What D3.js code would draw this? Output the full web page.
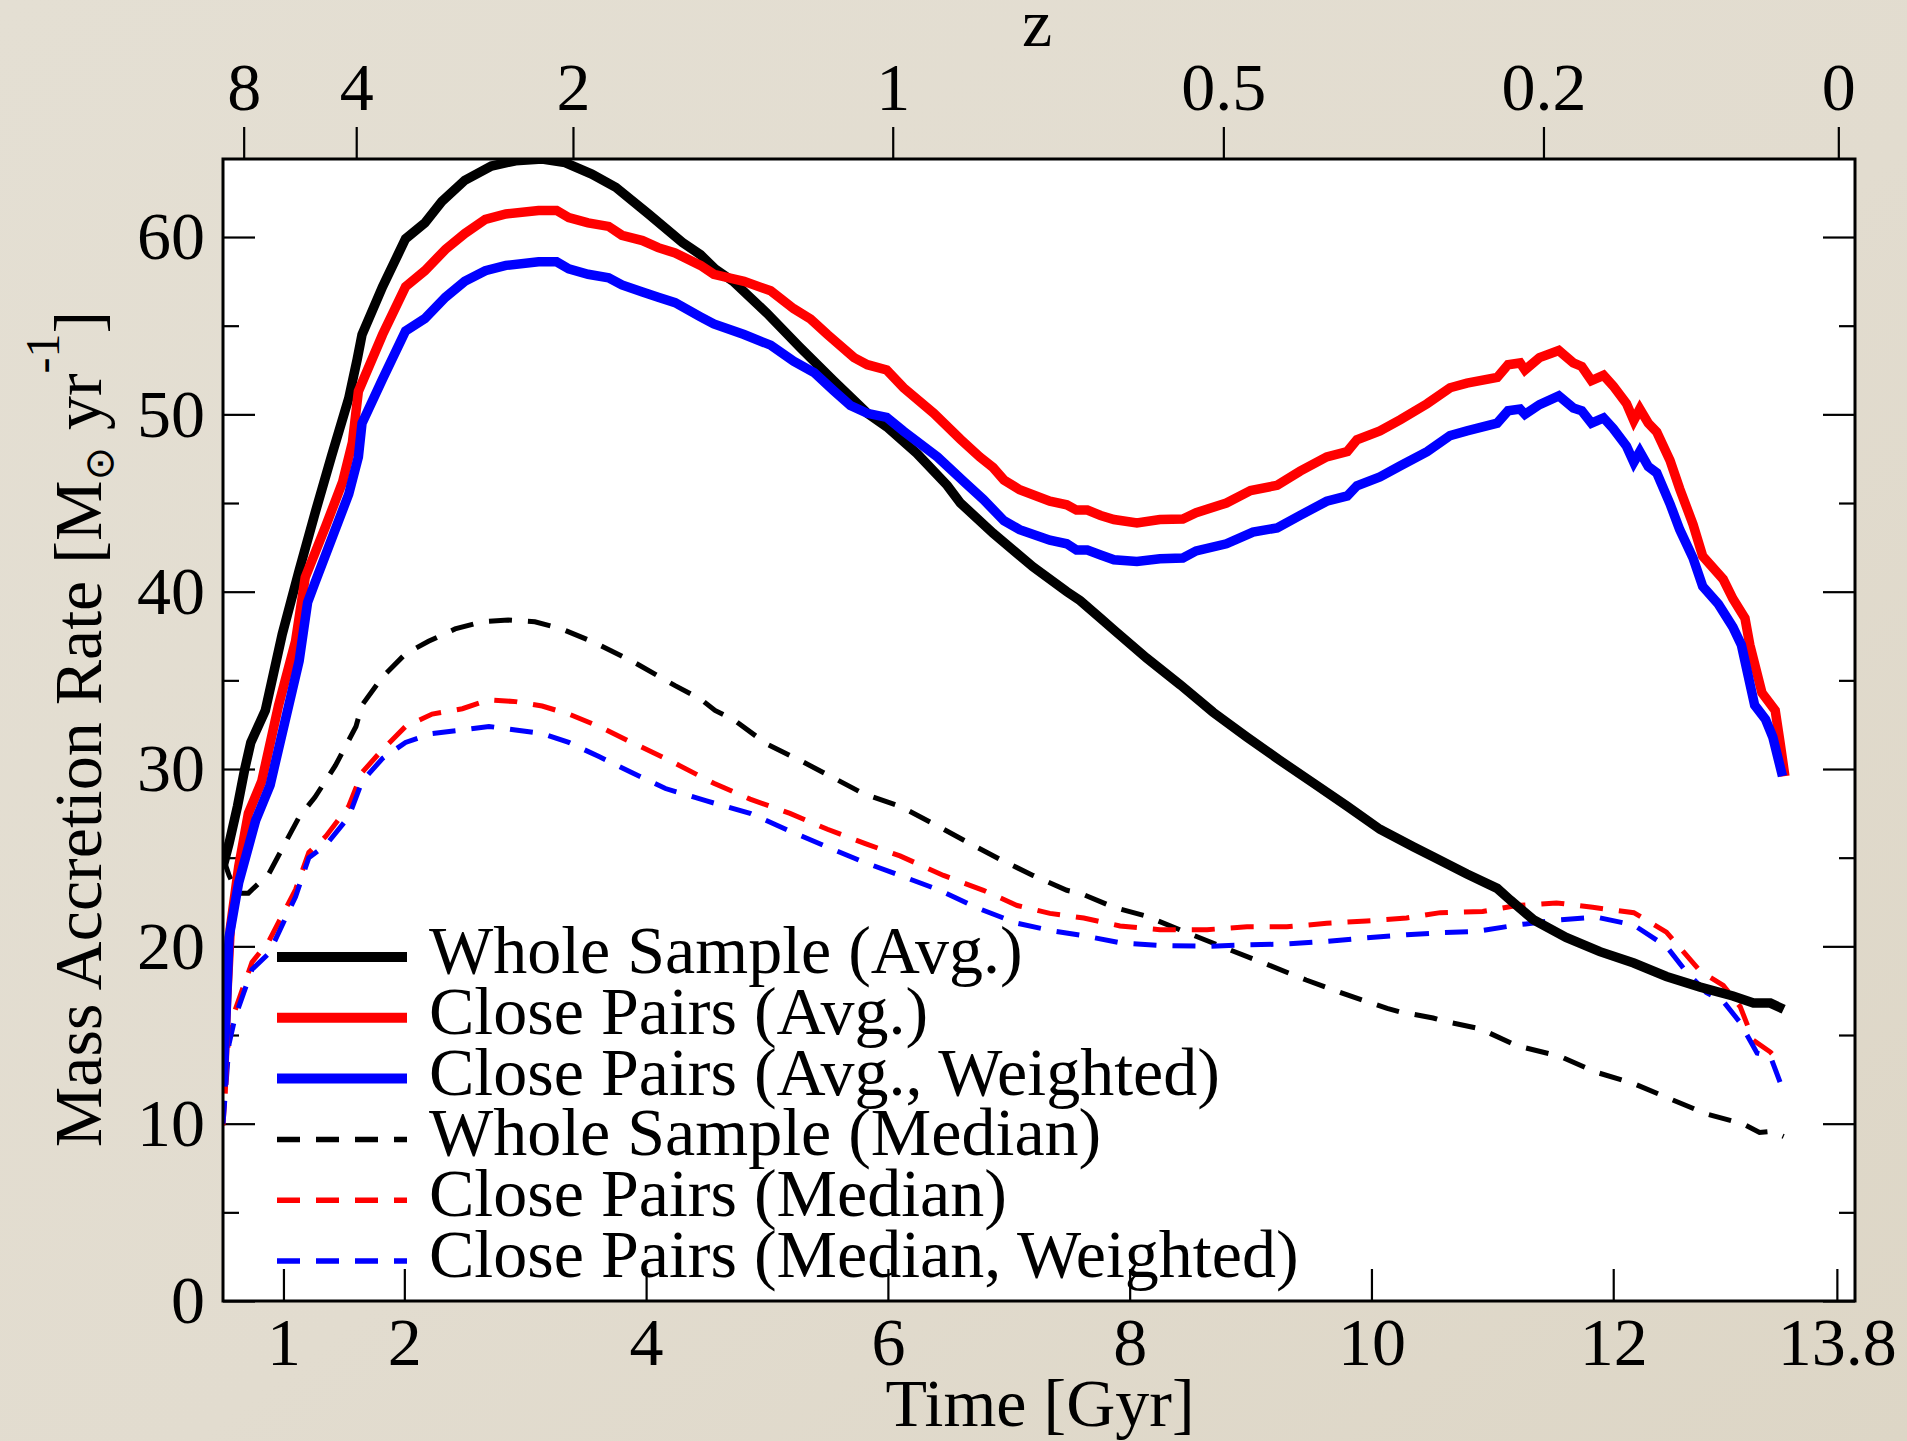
<!DOCTYPE html>
<html>
<head>
<meta charset="utf-8">
<script src="https://cdn.jsdelivr.net/npm/d3@7/dist/d3.min.js"></script>
<style>
  html, body { margin: 0; padding: 0; background: #e2ddcf; }
  svg { display: block; }
  text { font-family: "Liberation Serif", "Times New Roman", serif; fill: #000; }
</style>
</head>
<body>
<svg id="chart" width="1907" height="1441"></svg>
<script>
// ---------------- DATA ----------------
const timeTicks = [1, 2, 4, 6, 8, 10, 12, 13.85];
const timeTickLabels = ["1", "2", "4", "6", "8", "10", "12", "13.8"];
const zTickTimes = [0.671, 1.602, 3.395, 6.04, 8.775, 11.423, 13.862];
const zTickLabels = ["8", "4", "2", "1", "0.5", "0.2", "0"];
const yMajorTicks = [0, 10, 20, 30, 40, 50, 60];
const yMinorTicks = [5, 15, 25, 35, 45, 55];

const seriesNames = [
  "Whole Sample (Avg.)",
  "Close Pairs (Avg.)",
  "Close Pairs (Avg., Weighted)",
  "Whole Sample (Median)",
  "Close Pairs (Median)",
  "Close Pairs (Median, Weighted)"
];

// [time (Gyr), mass accretion rate]
const wholeAvg = [
  [0.5,24.5],[0.55,25.8],[0.62,27.9],[0.68,30.0],[0.73,31.5],[0.85,33.3],[0.99,37.6],[1.13,41.2],
  [1.26,44.4],[1.40,47.7],[1.54,50.9],[1.61,53.1],[1.65,54.5],[1.82,57.2],[2.01,59.9],[2.17,60.8],
  [2.31,62.0],[2.50,63.2],[2.72,64.0],[2.92,64.3],[3.14,64.4],[3.33,64.2],[3.55,63.55],[3.75,62.8],
  [4.02,61.3],[4.30,59.7],[4.45,59.0],[4.57,58.2],[4.72,57.5],[5.0,55.7],[5.27,53.8],[5.55,51.9],
  [5.83,50.06],[5.99,49.3],[6.24,47.8],[6.49,46.0],[6.60,45.0],[6.87,43.3],[7.2,41.4],[7.48,40.0],
  [7.59,39.5],[7.76,38.5],[7.87,37.84],[8.14,36.26],[8.42,34.74],[8.69,33.2],[8.97,31.8],[9.24,30.5],
  [9.52,29.2],[9.80,27.9],[10.07,26.6],[10.35,25.6],[10.51,25.05],[10.79,24.08],[11.04,23.27],
  [11.15,22.6],[11.34,21.5],[11.61,20.5],[11.89,19.7],[12.17,19.06],[12.44,18.3],[12.72,17.7],
  [12.99,17.2],[13.16,16.8],[13.30,16.8],[13.41,16.45]
];
const closeAvg = [
  [0.5,11.7],[0.53,17.0],[0.56,21.0],[0.63,24.5],[0.71,27.5],[0.82,29.3],[0.96,33.6],[1.10,37.2],
  [1.18,40.8],[1.35,43.7],[1.49,46.2],[1.57,48.4],[1.62,51.3],[1.82,54.5],[2.01,57.2],[2.17,58.1],
  [2.34,59.3],[2.50,60.2],[2.67,61.0],[2.84,61.3],[3.11,61.5],[3.26,61.5],[3.36,61.1],[3.52,60.8],
  [3.69,60.6],[3.80,60.1],[3.97,59.8],[4.10,59.4],[4.24,59.1],[4.45,58.4],[4.56,57.9],[4.81,57.5],
  [5.03,56.97],[5.22,55.96],[5.36,55.38],[5.50,54.5],[5.72,53.2],[5.83,52.8],[5.99,52.5],[6.13,51.5],
  [6.38,50.06],[6.60,48.6],[6.76,47.6],[6.87,47.0],[6.96,46.3],[7.09,45.75],[7.34,45.1],[7.48,44.9],
  [7.56,44.6],[7.65,44.6],[7.76,44.3],[7.87,44.07],[8.06,43.87],[8.25,44.07],[8.44,44.1],[8.55,44.45],
  [8.80,45.0],[9.0,45.7],[9.22,46.0],[9.41,46.8],[9.63,47.6],[9.80,47.9],[9.88,48.57],[10.07,49.06],
  [10.24,49.7],[10.46,50.6],[10.65,51.5],[10.79,51.76],[11.04,52.08],[11.13,52.8],[11.23,52.9],
  [11.27,52.5],[11.39,53.2],[11.55,53.6],[11.67,52.9],[11.74,52.7],[11.82,51.9],[11.92,52.2],
  [12.0,51.6],[12.11,50.6],[12.17,49.65],[12.22,50.3],[12.29,49.5],[12.36,49.0],[12.47,47.4],
  [12.55,45.8],[12.66,43.8],[12.74,42.0],[12.91,40.7],[12.99,39.6],[13.09,38.5],[13.13,37.0],
  [13.23,34.3],[13.34,33.3],[13.38,31.5],[13.42,29.6]
];
const closeAvgW = [
  [0.5,12.1],[0.53,17.0],[0.55,20.5],[0.63,23.6],[0.77,27.1],[0.89,29.1],[1.02,32.9],[1.13,36.1],
  [1.20,39.4],[1.26,40.5],[1.40,43.0],[1.54,45.5],[1.62,47.6],[1.65,49.5],[1.82,52.0],[2.01,54.7],
  [2.17,55.4],[2.34,56.6],[2.50,57.5],[2.67,58.1],[2.84,58.4],[3.11,58.6],[3.26,58.6],[3.36,58.2],
  [3.52,57.9],[3.69,57.7],[3.80,57.3],[3.97,56.9],[4.10,56.6],[4.24,56.3],[4.45,55.5],[4.56,55.1],
  [4.81,54.5],[5.03,53.9],[5.22,53.0],[5.39,52.36],[5.55,51.35],[5.69,50.5],[5.83,50.06],[5.99,49.83],
  [6.13,49.05],[6.41,47.6],[6.63,46.2],[6.79,45.2],[6.96,44.0],[7.09,43.5],[7.34,42.9],[7.48,42.7],
  [7.56,42.35],[7.65,42.35],[7.76,42.07],[7.87,41.8],[8.06,41.7],[8.25,41.86],[8.44,41.9],[8.55,42.3],
  [8.80,42.7],[9.02,43.36],[9.22,43.6],[9.41,44.3],[9.63,45.1],[9.80,45.4],[9.88,45.97],[10.07,46.47],
  [10.24,47.1],[10.46,47.9],[10.65,48.8],[10.79,49.07],[11.04,49.5],[11.13,50.2],[11.23,50.3],
  [11.27,50.0],[11.39,50.55],[11.55,51.04],[11.67,50.36],[11.74,50.2],[11.82,49.5],[11.92,49.8],
  [12.0,49.2],[12.11,48.2],[12.17,47.3],[12.22,47.9],[12.29,47.06],[12.36,46.7],[12.47,44.95],
  [12.55,43.5],[12.66,41.9],[12.74,40.3],[12.87,39.3],[12.99,38.0],[13.06,37.0],[13.17,33.6],
  [13.26,32.8],[13.32,31.8],[13.40,29.6]
];
const wholeMed = [
  [0.5,25.0],[0.55,24.0],[0.62,23.0],[0.71,23.0],[0.88,24.1],[1.02,25.9],[1.13,27.3],[1.26,28.4],
  [1.43,30.2],[1.60,32.4],[1.65,33.6],[1.82,35.2],[2.01,36.5],[2.2,37.2],[2.42,37.9],[2.64,38.3],
  [2.86,38.4],[3.08,38.3],[3.30,37.9],[3.55,37.2],[3.88,36.1],[4.24,34.7],[4.45,33.95],[4.57,33.3],
  [4.72,32.8],[5.0,31.4],[5.27,30.5],[5.55,29.5],[5.80,28.6],[6.10,27.9],[6.38,26.9],[6.65,25.9],
  [6.93,24.9],[7.2,24.0],[7.48,23.16],[7.59,23.0],[7.87,22.2],[8.14,21.7],[8.5,20.7],[8.83,19.8],
  [9.13,19.0],[9.46,18.1],[9.80,17.26],[10.13,16.5],[10.24,16.3],[10.51,15.96],[10.59,15.8],
  [10.9,15.35],[11.2,14.4],[11.56,13.8],[11.86,12.9],[12.17,12.26],[12.47,11.4],[12.77,10.55],
  [13.07,10.0],[13.21,9.5],[13.31,9.57],[13.41,9.28]
];
const closeMed = [
  [0.5,9.9],[0.55,15.3],[0.60,16.4],[0.74,19.1],[0.88,20.3],[1.10,23.2],[1.21,25.3],[1.35,26.2],
  [1.54,27.9],[1.65,29.8],[1.82,31.1],[2.01,32.4],[2.23,33.1],[2.48,33.4],[2.70,33.9],[2.92,33.8],
  [3.14,33.55],[3.36,33.1],[3.61,32.4],[3.88,31.5],[4.16,30.6],[4.56,29.2],[4.86,28.3],[5.19,27.5],
  [5.50,26.6],[5.83,25.75],[6.10,25.1],[6.46,24.0],[6.79,23.16],[7.07,22.3],[7.34,21.86],[7.62,21.6],
  [7.92,21.15],[8.25,20.94],[8.64,20.94],[8.97,21.1],[9.3,21.1],[9.63,21.3],[9.96,21.43],[10.29,21.6],
  [10.57,21.9],[10.92,21.97],[11.2,22.3],[11.53,22.45],[11.83,22.2],[12.17,21.9],[12.44,20.8],
  [12.58,19.7],[12.72,18.6],[12.91,17.8],[13.05,16.6],[13.16,14.7],[13.30,14.04],[13.36,13.6]
];
const closeMedW = [
  [0.5,10.0],[0.55,14.5],[0.60,16.0],[0.74,18.7],[0.88,19.6],[1.10,22.8],[1.21,25.0],[1.35,25.7],
  [1.54,27.3],[1.65,29.3],[1.82,30.6],[2.01,31.5],[2.23,32.0],[2.48,32.2],[2.70,32.4],[2.92,32.2],
  [3.14,32.0],[3.36,31.5],[3.61,30.7],[3.88,29.8],[4.16,28.9],[4.5,28.2],[4.86,27.5],[5.19,26.5],
  [5.50,25.6],[5.80,24.75],[6.10,24.0],[6.43,23.16],[6.74,22.16],[7.07,21.3],[7.34,20.9],[7.62,20.6],
  [7.92,20.2],[8.25,20.05],[8.64,20.0],[8.97,20.08],[9.3,20.13],[9.63,20.28],[9.96,20.48],[10.29,20.65],
  [10.57,20.77],[10.87,20.84],[11.2,21.2],[11.56,21.5],[11.86,21.65],[12.17,21.2],[12.44,20.0],
  [12.6,18.6],[12.77,17.4],[12.91,16.9],[13.05,15.7],[13.19,13.98],[13.30,13.8],[13.41,11.8]
];

const seriesData = [wholeAvg, closeAvg, closeAvgW, wholeMed, closeMed, closeMedW];
const seriesColors = ["#000000", "#ff0000", "#0000ff", "#000000", "#ff0000", "#0000ff"];
const seriesDashed = [false, false, false, true, true, true];

// ---------------- LAYOUT ----------------
const W = 1907, H = 1441;
const L = 223, R = 1855, T = 159, B = 1301;
const svg = d3.select("#chart");

// background paper
const defs = svg.append("defs");
const bg = defs.append("linearGradient").attr("id", "bg").attr("x1", "0").attr("y1", "0").attr("x2", "1").attr("y2", "1");
bg.append("stop").attr("offset", "0%").attr("stop-color", "#e4dfd3");
bg.append("stop").attr("offset", "55%").attr("stop-color", "#e2dccf");
bg.append("stop").attr("offset", "100%").attr("stop-color", "#ddd6c6");
svg.append("rect").attr("width", W).attr("height", H).attr("fill", "url(#bg)");

// plot area
svg.append("rect").attr("x", L).attr("y", T).attr("width", R - L).attr("height", B - T).attr("fill", "#ffffff");

const x = d3.scaleLinear().domain([0.5, 14.0]).range([L, R]);
const y = d3.scaleLinear().domain([0, 64.4]).range([B, T]);

const FS = 68;

function styleAxis(g) {
  g.select(".domain").remove();
  g.selectAll(".tick line").attr("stroke", "#000").attr("stroke-width", 2.2);
  g.selectAll(".tick text").attr("font-family", "Liberation Serif, Times New Roman, serif")
    .attr("font-size", FS).attr("fill", "#000");
}

// bottom axis (inward ticks)
svg.append("g").attr("transform", `translate(0,${B})`)
  .call(d3.axisBottom(x).tickValues(timeTicks).tickFormat((d, i) => timeTickLabels[i])
    .tickSizeInner(-32).tickSizeOuter(0).tickPadding(16))
  .call(styleAxis);

// top axis (redshift, outward ticks)
svg.append("g").attr("transform", `translate(0,${T})`)
  .call(d3.axisTop(x).tickValues(zTickTimes).tickFormat((d, i) => zTickLabels[i])
    .tickSizeInner(32).tickSizeOuter(0).tickPadding(17))
  .call(styleAxis);

// left axis
svg.append("g").attr("transform", `translate(${L},0)`)
  .call(d3.axisLeft(y).tickValues(yMajorTicks).tickFormat(d3.format("d"))
    .tickSizeInner(-32).tickSizeOuter(0).tickPadding(18))
  .call(styleAxis);
svg.append("g").attr("transform", `translate(${L},0)`)
  .call(d3.axisLeft(y).tickValues(yMinorTicks).tickFormat("").tickSizeInner(-16).tickSizeOuter(0))
  .call(styleAxis);

// right axis
svg.append("g").attr("transform", `translate(${R},0)`)
  .call(d3.axisRight(y).tickValues(yMajorTicks).tickFormat("").tickSizeInner(-32).tickSizeOuter(0))
  .call(styleAxis);
svg.append("g").attr("transform", `translate(${R},0)`)
  .call(d3.axisRight(y).tickValues(yMinorTicks).tickFormat("").tickSizeInner(-16).tickSizeOuter(0))
  .call(styleAxis);

// curves
const clipId = "plotclip";
defs.append("clipPath").attr("id", clipId).append("rect")
  .attr("x", L).attr("y", T).attr("width", R - L).attr("height", B - T);

const line = d3.line().x(d => x(d[0])).y(d => y(d[1]));
const order = [3, 4, 5, 0, 1, 2];
const curves = svg.append("g").attr("clip-path", `url(#${clipId})`);
order.forEach(i => {
  curves.append("path")
    .datum(seriesData[i])
    .attr("d", line)
    .attr("fill", "none")
    .attr("stroke", seriesColors[i])
    .attr("stroke-width", seriesDashed[i] ? 5 : 9.5)
    .attr("stroke-dasharray", seriesDashed[i] ? "23,16" : null)
    .attr("stroke-linejoin", "miter")
    .attr("stroke-miterlimit", 3);
});

// frame
svg.append("rect").attr("x", L).attr("y", T).attr("width", R - L).attr("height", B - T)
  .attr("fill", "none").attr("stroke", "#000").attr("stroke-width", 3);

// legend
const legX1 = 277, legX2 = 407, legTextX = 429, legY0 = 957, legDY = 60.8;
const leg = svg.append("g");
seriesNames.forEach((name, i) => {
  const yy = legY0 + i * legDY;
  leg.append("line").attr("x1", legX1).attr("x2", legX2).attr("y1", yy).attr("y2", yy)
    .attr("stroke", seriesColors[i])
    .attr("stroke-width", seriesDashed[i] ? 5.5 : 10)
    .attr("stroke-dasharray", seriesDashed[i] ? "23,16" : null);
  leg.append("text").attr("x", legTextX).attr("y", yy + 16).attr("font-size", FS).text(name);
});

// axis titles
svg.append("text").attr("x", 1040).attr("y", 1426).attr("text-anchor", "middle")
  .attr("font-size", FS).text("Time [Gyr]");
svg.append("text").attr("x", 1037).attr("y", 46).attr("text-anchor", "middle")
  .attr("font-size", FS).text("z");

const yl = svg.append("text").attr("transform", "translate(101,729) rotate(-90)")
  .attr("text-anchor", "middle").attr("font-size", FS);
yl.append("tspan").text("Mass Accretion Rate [M");
yl.append("tspan").attr("font-family", "DejaVu Sans").attr("font-size", 40).attr("dy", 12).text("\u2299");
yl.append("tspan").attr("dy", -12).text(" yr");
yl.append("tspan").attr("font-size", 48).attr("dy", -42).text("-1");
yl.append("tspan").attr("dy", 42).text("]");
</script>
</body>
</html>
